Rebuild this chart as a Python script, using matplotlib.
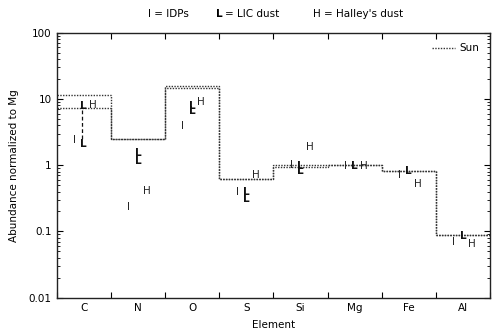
import matplotlib
matplotlib.use("Agg")
import matplotlib.pyplot as plt
import numpy as np
from matplotlib.ticker import FixedLocator, LogLocator, NullFormatter, FuncFormatter

plt.rcParams['font.family'] = ['DejaVu Sans']

elements = ["C", "N", "O", "S", "Si", "Mg", "Fe", "Al"]
sun_a = [11.5, 2.5, 15.7, 0.62, 1.0, 1.0, 0.82, 0.087]
sun_b = [7.2, 2.5, 14.6, 0.62, 0.95, 1.0, 0.82, 0.087]
idps = [2.42, 0.232, 3.93, 0.40, 1.0, 0.98, 0.71, 0.068]
lic_high = [7.85, 1.54, 7.8, 0.39, 0.97, 0.97, 0.83, 0.085]
lic_low = [2.07, 1.17, 6.5, 0.308, 0.83, None, None, None]
halley = [8.1, 0.414, 9.0, 0.71, 1.85, 0.98, 0.52, 0.065]

fig = plt.figure(figsize=(4.93, 3.34), dpi=100)
ax = fig.add_axes([0.115, 0.109, 0.879, 0.793])

x = np.arange(len(elements))
edges = np.arange(len(elements) + 1) - 0.5

ax.stairs(sun_a, edges, baseline=None, color='#333333', linestyle=(0, (1, 1)), lw=1.0, label='Sun')
ax.stairs(sun_b, edges, baseline=None, color='#333333', linestyle=(0, (1, 1)), lw=1.0)

fs = 7.5
off = 0.17
for i in range(len(elements)):
    ax.text(x[i] - off, idps[i], "I", ha='center', va='center', fontsize=fs, color='#222222')
    ax.text(x[i] + off, halley[i], "H", ha='center', va='center', fontsize=fs, color='#222222')
    ax.text(x[i], lic_high[i], "L", ha='center', va='center', fontsize=fs, fontweight='bold', color='#111111')
    if lic_low[i] is not None:
        ax.text(x[i], lic_low[i], "L", ha='center', va='center', fontsize=fs, fontweight='bold', color='#111111')

# dashed connection for C LIC range
ax.plot([x[0] - 0.03, x[0] - 0.03], [lic_high[0] * 0.88, lic_low[0] * 1.15], color='#111111',
        lw=0.9, linestyle=(0, (3, 2)))

ax.set_yscale('log')
ax.set_ylim(0.01, 100)
ax.set_xlim(-0.5, 7.5)

ax.xaxis.set_major_locator(FixedLocator(edges))
ax.xaxis.set_major_formatter(NullFormatter())
ax.xaxis.set_minor_locator(FixedLocator(x))
ax.xaxis.set_minor_formatter(FuncFormatter(lambda v, p: elements[int(round(v))]))
ax.tick_params(axis='x', which='major', direction='in', length=4, top=True, width=0.8)
ax.tick_params(axis='x', which='minor', length=0, labelsize=7.5, pad=4, top=False)

ax.yaxis.set_major_locator(LogLocator(base=10, numticks=10))
ax.yaxis.set_minor_locator(LogLocator(base=10, subs=np.arange(2, 10), numticks=10))
ax.yaxis.set_minor_formatter(NullFormatter())
ax.yaxis.set_major_formatter(FuncFormatter(lambda v, p: ('%g' % v)))
ax.tick_params(axis='y', which='major', direction='in', length=4, right=True, labelsize=7.5, width=0.8)
ax.tick_params(axis='y', which='minor', direction='in', length=2, right=True, width=0.6)

for s in ax.spines.values():
    s.set_linewidth(1.0)
    s.set_color('#222222')

ax.set_xlabel("Element", fontsize=7.5, labelpad=5)
ax.set_ylabel("Abundance normalized to Mg", fontsize=7.5, labelpad=7)

leg = ax.legend(loc='upper right', frameon=False, fontsize=7.5, handlelength=2.2,
                borderaxespad=0.6, handletextpad=0.5)

fig.text(0.30, 0.957, "I = IDPs", fontsize=7.5, va='center', ha='left')
fig.text(0.438, 0.957, "L", fontsize=7.5, fontweight='bold', va='center', ha='left')
fig.text(0.456, 0.957, "= LIC dust", fontsize=7.5, va='center', ha='left')
fig.text(0.635, 0.957, "H = Halley's dust", fontsize=7.5, va='center', ha='left')

fig.savefig("out.png", dpi=100)
